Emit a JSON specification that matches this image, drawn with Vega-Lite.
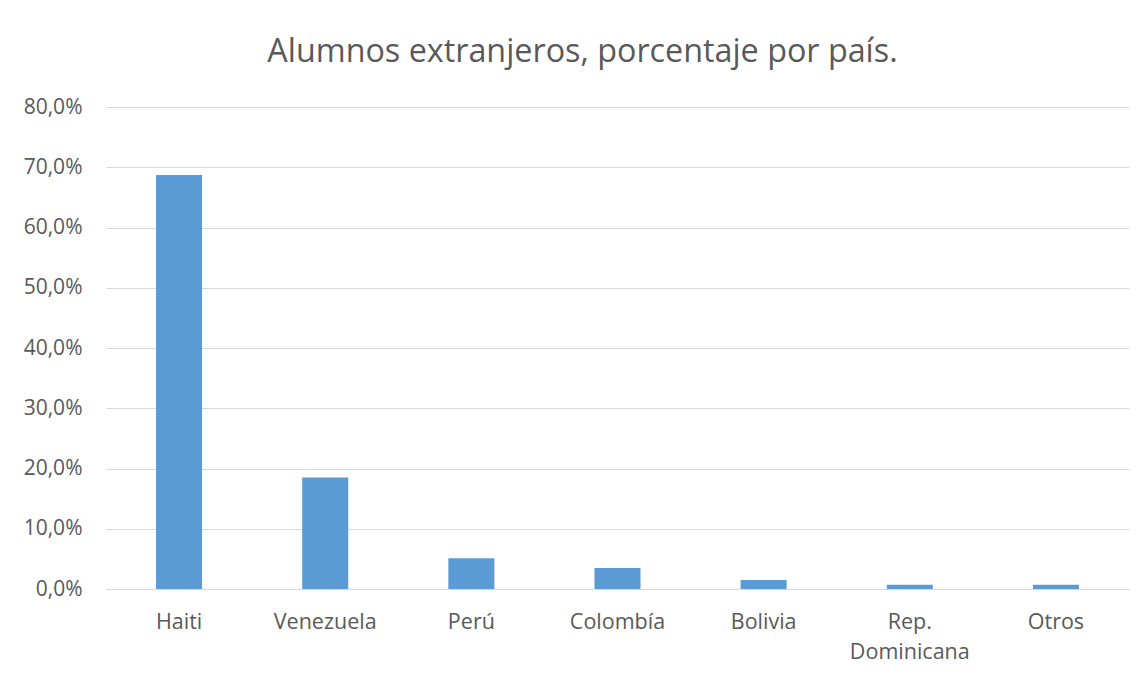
{
  "$schema": "https://vega.github.io/schema/vega-lite/v6.json",
  "width": 1023,
  "height": 482,
  "autosize": {"type": "none"},
  "padding": {"left": 106, "top": 107, "right": 17, "bottom": 86},
  "background": "white",
  "title": {
    "text": "Alumnos extranjeros, porcentaje por país.",
    "font": "Open Sans",
    "fontSize": 32.3,
    "fontWeight": "normal",
    "color": "#595959",
    "anchor": "middle",
    "baseline": "alphabetic",
    "dx": -35,
    "offset": 2
  },
  "data": {
    "values": [
      {"pais": "Haiti", "pct": 0.687},
      {"pais": "Venezuela", "pct": 0.185},
      {"pais": "Perú", "pct": 0.051},
      {"pais": "Colombía", "pct": 0.035},
      {"pais": "Bolivia", "pct": 0.015},
      {"pais": "Rep. Dominicana", "pct": 0.007},
      {"pais": "Otros", "pct": 0.007}
    ]
  },
  "mark": {"type": "bar", "color": "#5B9BD5"},
  "encoding": {
    "x": {
      "field": "pais",
      "type": "nominal",
      "sort": null,
      "scale": {"paddingInner": 0.685, "paddingOuter": 0.3425},
      "axis": {
        "title": null,
        "labelAngle": 0,
        "ticks": false,
        "domain": true,
        "domainColor": "#D9D9D9",
        "labelPadding": 22,
        "labelFont": "Open Sans",
        "labelFontSize": 21.5,
        "labelColor": "#595959",
        "labelLineHeight": 30,
        "labelExpr": "datum.label == 'Rep. Dominicana' ? ['Rep.', 'Dominicana'] : datum.label"
      }
    },
    "y": {
      "field": "pct",
      "type": "quantitative",
      "scale": {"domain": [0, 0.8], "nice": false},
      "axis": {
        "title": null,
        "values": [0, 0.1, 0.2, 0.3, 0.4, 0.5, 0.6, 0.7, 0.8],
        "ticks": false,
        "domain": false,
        "grid": true,
        "gridColor": "#D9D9D9",
        "labelPadding": 24,
        "labelFont": "Open Sans",
        "labelFontSize": 21,
        "labelColor": "#595959",
        "labelExpr": "replace(format(datum.value, '.1%'), '.', ',')"
      }
    }
  },
  "config": {"view": {"stroke": null}}
}
